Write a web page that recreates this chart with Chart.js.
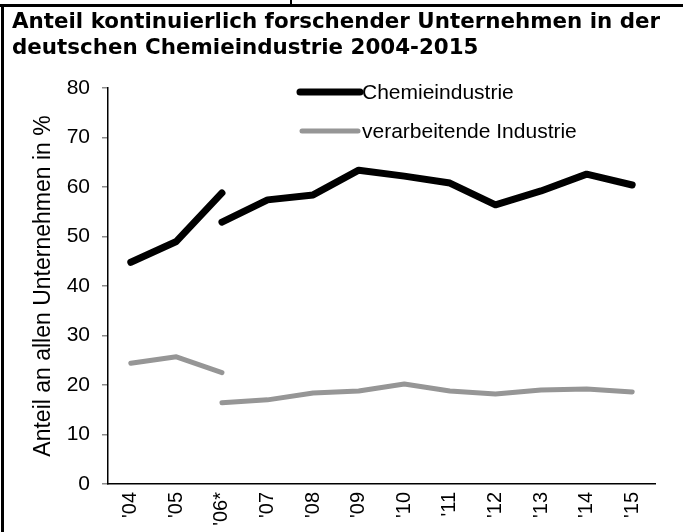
<!DOCTYPE html>
<html>
<head>
<meta charset="utf-8">
<script src="https://cdn.jsdelivr.net/npm/chart.js@4.4.1/dist/chart.umd.min.js"></script>
<style>
  html, body { margin: 0; padding: 0; background: #fff; }
  #wrap { position: relative; width: 683px; height: 532px; overflow: hidden; }
  #frameTop { position: absolute; left: 0; top: 4px; width: 683px; height: 3px; background: #000; }
  #frameLeft { position: absolute; left: 1px; top: 4px; width: 3px; height: 528px; background: #000; }
  #stub { position: absolute; left: 290px; top: 0; width: 2px; height: 5px; background: #000; }
  #title { position: absolute; left: 12px; top: 8px; font: bold 21.4px 'DejaVu Sans', Verdana, sans-serif;
           line-height: 26px; color: #000; white-space: nowrap; }
  #chart { position: absolute; left: 0; top: 0; }
</style>
</head>
<body>
<div id="wrap">
  <canvas id="chart" width="683" height="532"></canvas>
  <div id="frameTop"></div>
  <div id="frameLeft"></div>
  <div id="stub"></div>
  <div id="title">Anteil kontinuierlich forschender Unternehmen in der<br>deutschen Chemieindustrie 2004-2015</div>
</div>
<script>
// Jahre; '06* = Methodenwechsel, deshalb zwei Werte fuer 2006
const YEARS = ["'04", "'05", "'06*", "'07", "'08", "'09", "'10", "'11", "'12", "'13", "'14", "'15"];
const Y_TICKS = [0, 10, 20, 30, 40, 50, 60, 70, 80];

// Chemieindustrie: '04-'06 (alt) und '06*-'15 (neu)
const CHEMIE_ALT = [44.8, 49.0, 58.8];
const CHEMIE_NEU = [52.9, 57.4, 58.4, 63.4, 62.2, 60.8, 56.4, 59.2, 62.6, 60.4];

// verarbeitende Industrie
const VERARB_ALT = [24.4, 25.7, 22.5];
const VERARB_NEU = [16.4, 17.0, 18.4, 18.8, 20.2, 18.8, 18.2, 19.0, 19.2, 18.6];

const COLORS = {
  chemie: '#000000',
  verarb: '#969696',
  axis:   '#000000',
  tick:   '#8c8c8c',
  text:   '#000000',
};

const FONT = "'Liberation Sans', Arial, sans-serif";

// first segment ends at '06*, second starts there
function padAlt(vals) {
  return YEARS.map((_, i) => i < vals.length ? vals[i] : null);
}
function padNeu(vals) {
  const start = YEARS.length - vals.length;
  return YEARS.map((_, i) => i >= start ? vals[i - start] : null);
}

function lineSet(label, data, color, width) {
  return {
    label,
    data,
    borderColor: color,
    backgroundColor: color,
    borderWidth: width,
    borderCapStyle: 'round',
    borderJoinStyle: 'round',
    pointRadius: 0,
    pointHoverRadius: 0,
    tension: 0,
    fill: false,
    spanGaps: false,
  };
}

// simple legend inside the plot area
const legendPlugin = {
  id: 'insideLegend',
  afterDatasetsDraw(chart) {
    const ctx = chart.ctx;
    const rows = [
      { ds: chart.data.datasets[0], x0: 300, x1: 360, y: 92 },
      { ds: chart.data.datasets[2], x0: 302, x1: 358, y: 131 },
    ];
    ctx.save();
    rows.forEach(r => {
      ctx.strokeStyle = r.ds.borderColor;
      ctx.lineWidth = r.ds.borderWidth;
      ctx.lineCap = 'round';
      ctx.beginPath();
      ctx.moveTo(r.x0, r.y);
      ctx.lineTo(r.x1, r.y);
      ctx.stroke();
      ctx.fillStyle = COLORS.text;
      ctx.font = '21px ' + FONT;
      ctx.textAlign = 'left';
      ctx.textBaseline = 'middle';
      ctx.fillText(r.ds.label, 362, r.y + 1);
    });
    ctx.restore();
  },
};

new Chart(document.getElementById('chart'), {
  type: 'line',
  data: {
    labels: YEARS,
    datasets: [
      lineSet('Chemieindustrie', padAlt(CHEMIE_ALT), COLORS.chemie, 7),
      lineSet('Chemieindustrie', padNeu(CHEMIE_NEU), COLORS.chemie, 7),
      lineSet('verarbeitende Industrie', padAlt(VERARB_ALT), COLORS.verarb, 5),
      lineSet('verarbeitende Industrie', padNeu(VERARB_NEU), COLORS.verarb, 5),
    ],
  },
  options: {
    responsive: false,
    animation: false,
    layout: { padding: { top: 88, right: 28, bottom: 0, left: 0 } },
    plugins: {
      legend: { display: false },
      title: { display: false },
      tooltip: { enabled: false },
    },
    scales: {
      x: {
        offset: true,
        grid: { display: false, drawTicks: false },
        border: { display: true, color: COLORS.axis, width: 1.5 },
        ticks: {
          color: COLORS.text,
          font: { family: FONT, size: 20 },
          minRotation: 90,
          maxRotation: 90,
          padding: 8,
          autoSkip: false,
        },
        afterFit: s => { s.height = 48; },
      },
      y: {
        min: 0,
        max: 80,
        afterBuildTicks: s => { s.ticks = Y_TICKS.map(v => ({ value: v })); },
        grid: { display: true, drawOnChartArea: false, drawTicks: true, tickLength: 6, color: COLORS.tick, lineWidth: 1.5 },
        border: { display: true, color: COLORS.axis, width: 1.5 },
        ticks: {
          color: COLORS.text,
          font: { family: FONT, size: 21 },
          padding: 12,
        },
        title: {
          display: true,
          text: 'Anteil an allen Unternehmen in %',
          color: COLORS.text,
          font: { family: FONT, size: 23 },
          padding: { top: 30, bottom: 0 },
        },
        afterFit: s => { s.width = 108; },
      },
    },
  },
  plugins: [legendPlugin],
});
</script>
</body>
</html>
